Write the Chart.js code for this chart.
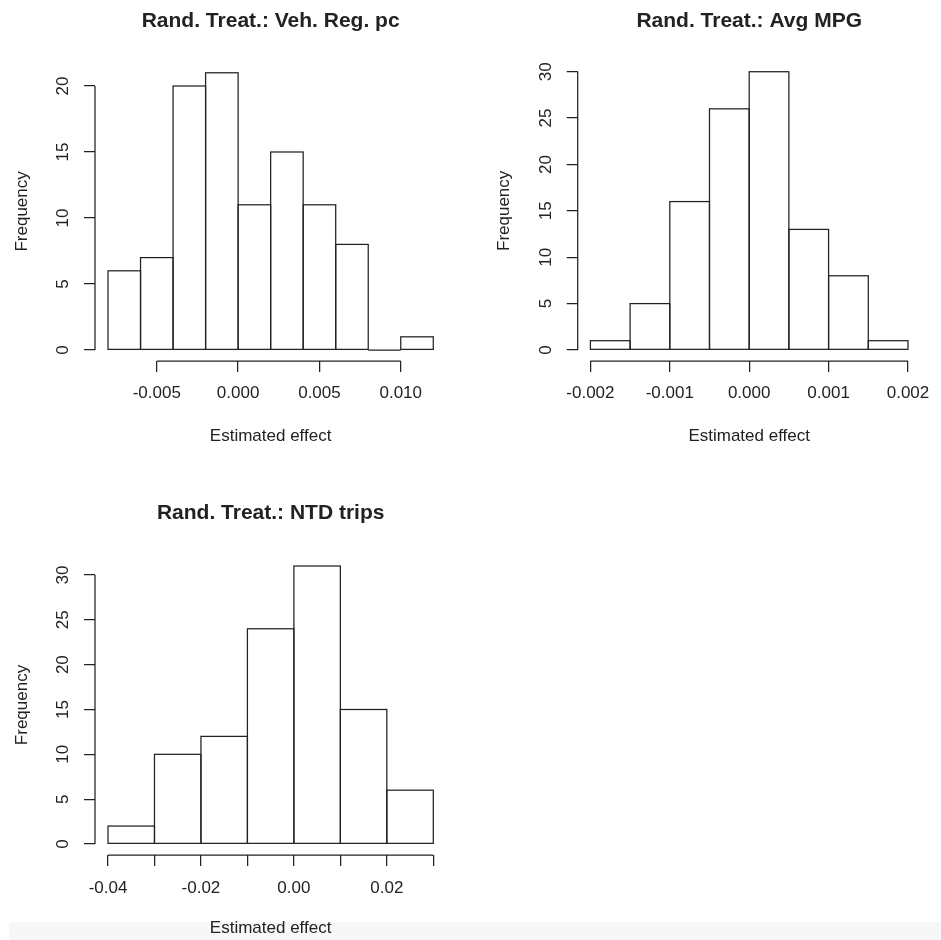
<!DOCTYPE html>
<html>
<head>
<meta charset="utf-8">
<script src="https://cdn.jsdelivr.net/npm/chart.js@4.4.1/dist/chart.umd.min.js"></script>
<style>
  body { margin: 0; background: #fff; }
  #wrap { position: relative; width: 941px; height: 940px; overflow: hidden; }
  canvas { position: absolute; }
  #band { position: absolute; left: 9px; top: 922px; width: 932px; height: 18px; background: #f7f7f7; }
</style>
</head>
<body>
<div id="wrap">
  <div id="band"></div>
  <canvas id="vehChart" width="470" height="470" style="left:0;top:0"></canvas>
  <canvas id="mpgChart" width="471" height="470" style="left:470px;top:0"></canvas>
  <canvas id="ntdChart" width="470" height="470" style="left:0;top:470px"></canvas>
</div>
<script>
// --- data ---
var vehTitle = 'Rand. Treat.: Veh. Reg. pc';
var vehBreaks = [-0.008, -0.006, -0.004, -0.002, 0.000, 0.002, 0.004, 0.006, 0.008, 0.010, 0.012];
var vehCounts = [6, 7, 20, 21, 11, 15, 11, 8, 0, 1];
var vehXTicks = [-0.005, 0.000, 0.005, 0.010];
var vehXLabels = ['-0.005', '0.000', '0.005', '0.010'];
var vehYTicks = [0, 5, 10, 15, 20];

var mpgTitle = 'Rand. Treat.: Avg MPG';
var mpgBreaks = [-0.002, -0.0015, -0.001, -0.0005, 0.000, 0.0005, 0.001, 0.0015, 0.002];
var mpgCounts = [1, 5, 16, 26, 30, 13, 8, 1];
var mpgXTicks = [-0.002, -0.001, 0.000, 0.001, 0.002];
var mpgXLabels = ['-0.002', '-0.001', '0.000', '0.001', '0.002'];
var mpgYTicks = [0, 5, 10, 15, 20, 25, 30];

var ntdTitle = 'Rand. Treat.: NTD trips';
var ntdBreaks = [-0.04, -0.03, -0.02, -0.01, 0.00, 0.01, 0.02, 0.03];
var ntdCounts = [2, 10, 12, 24, 31, 15, 6];
var ntdXTicks = [-0.04, -0.03, -0.02, -0.01, 0.00, 0.01, 0.02, 0.03];
var ntdXLabels = ['-0.04', '', '-0.02', '', '0.00', '', '0.02', ''];
var ntdYTicks = [0, 5, 10, 15, 20, 25, 30];

var xTitle = 'Estimated effect';
var yTitle = 'Frequency';

var ink = '#222';
var titleSize = 21;
var labelSize = 17;
Chart.defaults.font.family = "'Liberation Sans', Arial, sans-serif";
Chart.defaults.color = ink;

// outlines every bin once (shared edges stay single) and draws R style axis lines
var rStyle = {
  id: 'rStyle',
  afterDatasetsDraw: function (chart) {
    var ctx = chart.ctx, a = chart.chartArea;
    var sx = chart.scales.x, sy = chart.scales.y;
    ctx.save();
    ctx.strokeStyle = ink;
    ctx.lineWidth = 1.25;
    chart.getDatasetMeta(0).data.forEach(function (bar) {
      var p = bar.getProps(['x', 'y', 'base', 'width'], true);
      ctx.strokeRect(p.x - p.width / 2, p.y, p.width, p.base - p.y);
    });
    var xt = sx.ticks, yt = sy.ticks;
    ctx.beginPath();
    ctx.moveTo(sx.getPixelForValue(xt[0].value), a.bottom);
    ctx.lineTo(sx.getPixelForValue(xt[xt.length - 1].value), a.bottom);
    ctx.moveTo(a.left, sy.getPixelForValue(yt[0].value));
    ctx.lineTo(a.left, sy.getPixelForValue(yt[yt.length - 1].value));
    ctx.stroke();
    ctx.restore();
  }
};

function makeHist(id, title, breaks, counts, xTicks, xLabels, yTicks, L) {
  var canvas = document.getElementById(id);
  var span = breaks[breaks.length - 1] - breaks[0];
  var top = Math.max.apply(null, counts);
  var points = counts.map(function (c, i) {
    return { x: (breaks[i] + breaks[i + 1]) / 2, y: c };
  });
  var axisGrid = { drawOnChartArea: false, offset: false, tickLength: 11, color: ink, lineWidth: 1.25 };
  var halfTitle = titleSize * 1.2 / 2;
  var halfLabel = labelSize * 1.2 / 2;

  new Chart(canvas, {
    type: 'bar',
    data: {
      datasets: [{
        data: points,
        backgroundColor: '#fff',
        borderWidth: 0,
        barPercentage: 1,
        categoryPercentage: 1
      }]
    },
    options: {
      responsive: false,
      animation: false,
      layout: { padding: { left: 0, top: 0, bottom: 0, right: canvas.width - L.right } },
      plugins: {
        legend: { display: false },
        tooltip: { enabled: false },
        title: {
          display: true,
          text: title,
          fullSize: false,
          color: ink,
          font: { size: titleSize, weight: 'bold' },
          padding: { top: L.titleY - halfTitle, bottom: L.top - L.titleY - halfTitle }
        }
      },
      scales: {
        x: {
          type: 'linear',
          offset: false,
          min: breaks[0] - 0.04 * span,
          max: breaks[breaks.length - 1] + 0.04 * span,
          afterBuildTicks: function (s) { s.ticks = xTicks.map(function (v) { return { value: v }; }); },
          afterFit: function (s) { s.height = canvas.height - L.bottom; },
          grid: axisGrid,
          border: { display: false },
          ticks: {
            autoSkip: false, maxRotation: 0, padding: L.xTickPad,
            font: { size: labelSize },
            callback: function (v, i) { return xLabels[i]; }
          },
          title: { display: true, text: xTitle, font: { size: labelSize }, padding: { top: 0, bottom: L.xTitlePad } }
        },
        y: {
          min: -0.04 * top,
          max: 1.04 * top,
          afterBuildTicks: function (s) { s.ticks = yTicks.map(function (v) { return { value: v }; }); },
          afterFit: function (s) { s.width = L.left; },
          grid: axisGrid,
          border: { display: false },
          ticks: {
            autoSkip: false, minRotation: 90, maxRotation: 90, crossAlign: 'center', padding: 11,
            font: { size: labelSize },
            callback: function (v) { return String(v); }
          },
          title: { display: true, text: yTitle, font: { size: labelSize }, padding: { top: L.left - 73 - halfLabel, bottom: 0 } }
        }
      }
    },
    plugins: [rStyle]
  });
}

makeHist('vehChart', vehTitle, vehBreaks, vehCounts, vehXTicks, vehXLabels, vehYTicks,
  { left: 95, right: 446.3, top: 61.7, bottom: 361.1, titleY: 21, xTickPad: 11, xTitlePad: 23.8 });
makeHist('mpgChart', mpgTitle, mpgBreaks, mpgCounts, mpgXTicks, mpgXLabels, mpgYTicks,
  { left: 107.7, right: 459.7, top: 60.6, bottom: 361.1, titleY: 21, xTickPad: 11, xTitlePad: 23.8 });
makeHist('ntdChart', ntdTitle, ntdBreaks, ntdCounts, ntdXTicks, ntdXLabels, ntdYTicks,
  { left: 95, right: 446.3, top: 84.9, bottom: 385.1, titleY: 43.3, xTickPad: 12, xTitlePad: 1.5 });
</script>
</body>
</html>
